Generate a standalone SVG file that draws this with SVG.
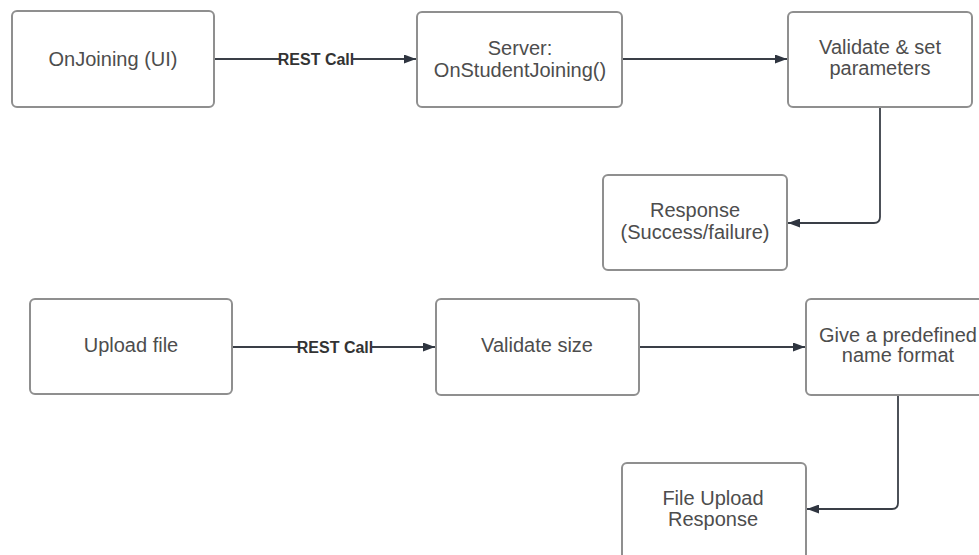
<svg xmlns="http://www.w3.org/2000/svg" width="979" height="555" viewBox="0 0 979 555">
  <style>
    .box { fill: #ffffff; stroke: #8f8f8f; stroke-width: 2; }
    .lbl { font-family: "Liberation Sans", Arial, sans-serif; font-size: 20px; fill: #4d4d4d; text-anchor: middle; }
    .edge { fill: none; stroke: #3a3f47; stroke-width: 1.8; }
    .elbl { font-family: "Liberation Sans", Arial, sans-serif; font-size: 16px; font-weight: bold; fill: #333333; text-anchor: middle; }
    .bg { fill: #ffffff; }
  </style>
  <defs>
    <marker id="arrow" viewBox="0 0 12 9" refX="12" refY="4.5" markerWidth="12" markerHeight="9" markerUnits="userSpaceOnUse" orient="auto">
      <path d="M0,0 L12,4.5 L0,9 Z" fill="#2f3540"/>
    </marker>
  </defs>
  <rect width="979" height="555" fill="#ffffff"/>

  <!-- connectors -->
  <g id="connectors">
    <path class="edge" d="M214,59 H416" marker-end="url(#arrow)"/>
    <rect class="bg" x="279" y="51" width="74" height="16"/>
    <text class="elbl" x="316" y="65">REST Call</text>

    <path class="edge" d="M622,59 H787" marker-end="url(#arrow)"/>

    <path class="edge" d="M880,107 V217 Q880,223 874,223 H788" marker-end="url(#arrow)"/>

    <path class="edge" d="M232,347 H435" marker-end="url(#arrow)"/>
    <rect class="bg" x="298" y="339" width="74" height="16"/>
    <text class="elbl" x="335" y="353">REST Call</text>

    <path class="edge" d="M639,347 H805" marker-end="url(#arrow)"/>

    <path class="edge" d="M898,395 V503 Q898,509 892,509 H807" marker-end="url(#arrow)"/>
  </g>

  <!-- top flow -->
  <g id="on-joining">
    <rect class="box" x="12" y="11" width="202" height="96" rx="5"/>
    <text class="lbl" x="113" y="66">OnJoining (UI)</text>
  </g>
  <g id="server">
    <rect class="box" x="417" y="12" width="205" height="95" rx="5"/>
    <text class="lbl" x="520" y="55">Server:</text>
    <text class="lbl" x="520" y="77">OnStudentJoining()</text>
  </g>
  <g id="validate-params">
    <rect class="box" x="788" y="12" width="184" height="95" rx="5"/>
    <text class="lbl" x="880" y="54">Validate &amp; set</text>
    <text class="lbl" x="880" y="75">parameters</text>
  </g>
  <g id="response">
    <rect class="box" x="603" y="175" width="184" height="95" rx="5"/>
    <text class="lbl" x="695" y="217">Response</text>
    <text class="lbl" x="695" y="239">(Success/failure)</text>
  </g>

  <!-- upload flow -->
  <g id="upload-file">
    <rect class="box" x="30" y="299" width="202" height="95" rx="5"/>
    <text class="lbl" x="131" y="352">Upload file</text>
  </g>
  <g id="validate-size">
    <rect class="box" x="436" y="299" width="203" height="96" rx="5"/>
    <text class="lbl" x="537" y="352">Validate size</text>
  </g>
  <g id="name-format">
    <rect class="box" x="806" y="299" width="190" height="96" rx="5"/>
    <text class="lbl" x="898" y="342">Give a predefined</text>
    <text class="lbl" x="898" y="362">name format</text>
  </g>
  <g id="upload-response">
    <rect class="box" x="622" y="463" width="184" height="110" rx="5"/>
    <text class="lbl" x="713" y="505">File Upload</text>
    <text class="lbl" x="713" y="526">Response</text>
  </g>
</svg>
